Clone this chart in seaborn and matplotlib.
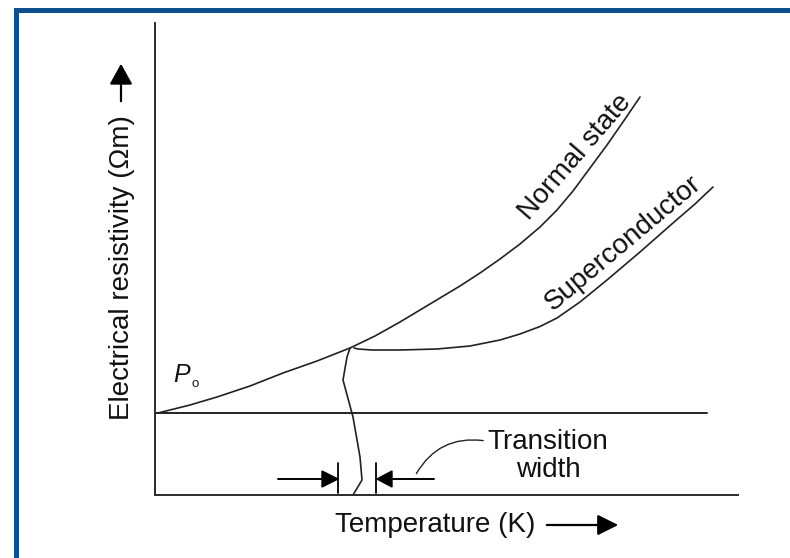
import matplotlib
matplotlib.use("Agg")
import matplotlib.pyplot as plt
from matplotlib.patches import Rectangle, FancyArrowPatch, Polygon
from matplotlib.lines import Line2D
import seaborn as sns
import pandas as pd

# ---- data (temperature / resistivity, arbitrary schematic units) ----
normal_T = [3, 35, 62, 95, 128, 162, 195, 220, 245, 265, 285, 305, 325, 345,
            365, 385, 402, 418, 435, 452, 468, 485]
normal_rho = [82, 90, 98, 109, 122, 134, 147, 159, 173, 185, 197, 209, 222, 236,
              251, 268, 285, 304, 327, 350, 373, 398]
super_T = [199, 203, 217, 245, 282, 315, 345, 365, 385, 402, 425, 452, 485, 518,
           540, 558]
super_rho = [147, 146, 145, 145, 146, 149, 155, 161, 168.5, 177, 193, 215, 243, 272,
             291, 308]
trans_T = [195, 192, 188, 198, 205, 207, 198]
trans_rho = [147, 138, 115, 78, 38, 15, 0]
residual_T = [0, 552]
residual_rho = [82, 82]

x_label = "Temperature (K)"
y_label = "Electrical resistivity (\u03a9m)"
normal_label = "Normal state"
super_label = "Superconductor"
trans_label = "Transition\nwidth"

W, H = 790, 558
sns.set_style("white")
plt.rcParams["font.family"] = ["Liberation Sans", "DejaVu Sans"]

fig = plt.figure(figsize=(W / 100, H / 100), dpi=100)
fig.patch.set_facecolor("white")


def fp(x, y):
    """figure pixel (from top-left) -> figure fraction"""
    return (x / W, 1 - y / H)


ax = fig.add_axes([155 / W, (H - 495) / H, (738 - 155) / W, (495 - 23) / H])
ax.set_xlim(0, 583)
ax.set_ylim(0, 472)
ax.set_facecolor("white")
for s in ["top", "right"]:
    ax.spines[s].set_visible(False)
for s in ["left", "bottom"]:
    ax.spines[s].set_color("#2a2a2a")
    ax.spines[s].set_linewidth(1.4)
ax.set_xticks([])
ax.set_yticks([])

LC = "#222222"
LW = 1.2
df_n = pd.DataFrame({"T": normal_T, "rho": normal_rho})
df_s = pd.DataFrame({"T": super_T, "rho": super_rho})
df_t = pd.DataFrame({"T": trans_T, "rho": trans_rho})
df_r = pd.DataFrame({"T": residual_T, "rho": residual_rho})
for d, lw in [(df_n, LW), (df_s, LW), (df_t, LW), (df_r, 1.4)]:
    sns.lineplot(data=d, x="T", y="rho", sort=False, estimator=None,
                 color=LC, linewidth=lw, ax=ax)
ax.set_xlabel("")
ax.set_ylabel("")

FS = 20
# curve labels
fig.text(*fp(575, 157), normal_label, rotation=49, ha="center", va="center",
         fontsize=FS, color="#111111", rotation_mode="anchor")
fig.text(*fp(623, 243), super_label, rotation=40, ha="center", va="center",
         fontsize=FS, color="#111111", rotation_mode="anchor")

# P0 label
fig.text(*fp(182, 375), "P", fontstyle="italic", ha="center", va="center",
         fontsize=18, color="#111111")
fig.text(*fp(195, 384), "o", ha="center", va="center",
         fontsize=9.5, color="#111111")

# axis labels with arrows
fig.text(*fp(122, 268), y_label, rotation=90, ha="center", va="center",
         fontsize=FS, color="#111111")
fig.add_artist(FancyArrowPatch(fp(121, 104), fp(121, 61), transform=fig.transFigure,
                               arrowstyle="-|>,head_length=0.9,head_width=0.5",
                               mutation_scale=14, color="black", linewidth=1.6))
fig.text(*fp(435, 525), x_label, ha="center", va="center",
         fontsize=FS, color="#111111")
fig.add_artist(FancyArrowPatch(fp(544, 525), fp(621, 525), transform=fig.transFigure,
                               arrowstyle="-|>,head_length=0.9,head_width=0.45",
                               mutation_scale=14, color="black", linewidth=1.6))

# transition width markers
AY = 479
fig.add_artist(Line2D([278 / W, 322 / W], [1 - AY / H] * 2, transform=fig.transFigure,
                      color="black", linewidth=1.4))
fig.add_artist(Polygon([fp(322, AY - 8), fp(322, AY + 8), fp(338, AY)], closed=True,
                       transform=fig.transFigure, color="black"))
fig.add_artist(Line2D([338 / W] * 2, [1 - 463 / H, 1 - 493 / H], transform=fig.transFigure,
                      color="black", linewidth=1.3))
fig.add_artist(Line2D([376 / W] * 2, [1 - 463 / H, 1 - 493 / H], transform=fig.transFigure,
                      color="black", linewidth=1.3))
fig.add_artist(Polygon([fp(392, AY - 8), fp(392, AY + 8), fp(377, AY)], closed=True,
                       transform=fig.transFigure, color="black"))
fig.add_artist(Line2D([392 / W, 434 / W], [1 - AY / H] * 2, transform=fig.transFigure,
                      color="black", linewidth=1.4))
# leader curve
fig.add_artist(FancyArrowPatch(fp(415, 476), fp(486, 441), transform=fig.transFigure,
                               arrowstyle="-", connectionstyle="arc3,rad=-0.35",
                               color=LC, linewidth=1.0))
fig.text(*fp(548, 456), trans_label, ha="center", va="center",
         fontsize=FS, color="#111111", linespacing=1.12)

# blue frame (partially cropped)
fig.add_artist(Rectangle(fp(16, 600), (900) / W, (600 - 9.5) / H,
                         transform=fig.transFigure, fill=False,
                         edgecolor="#0d4f8f", linewidth=3.6))

fig.savefig("out.png", dpi=100)
